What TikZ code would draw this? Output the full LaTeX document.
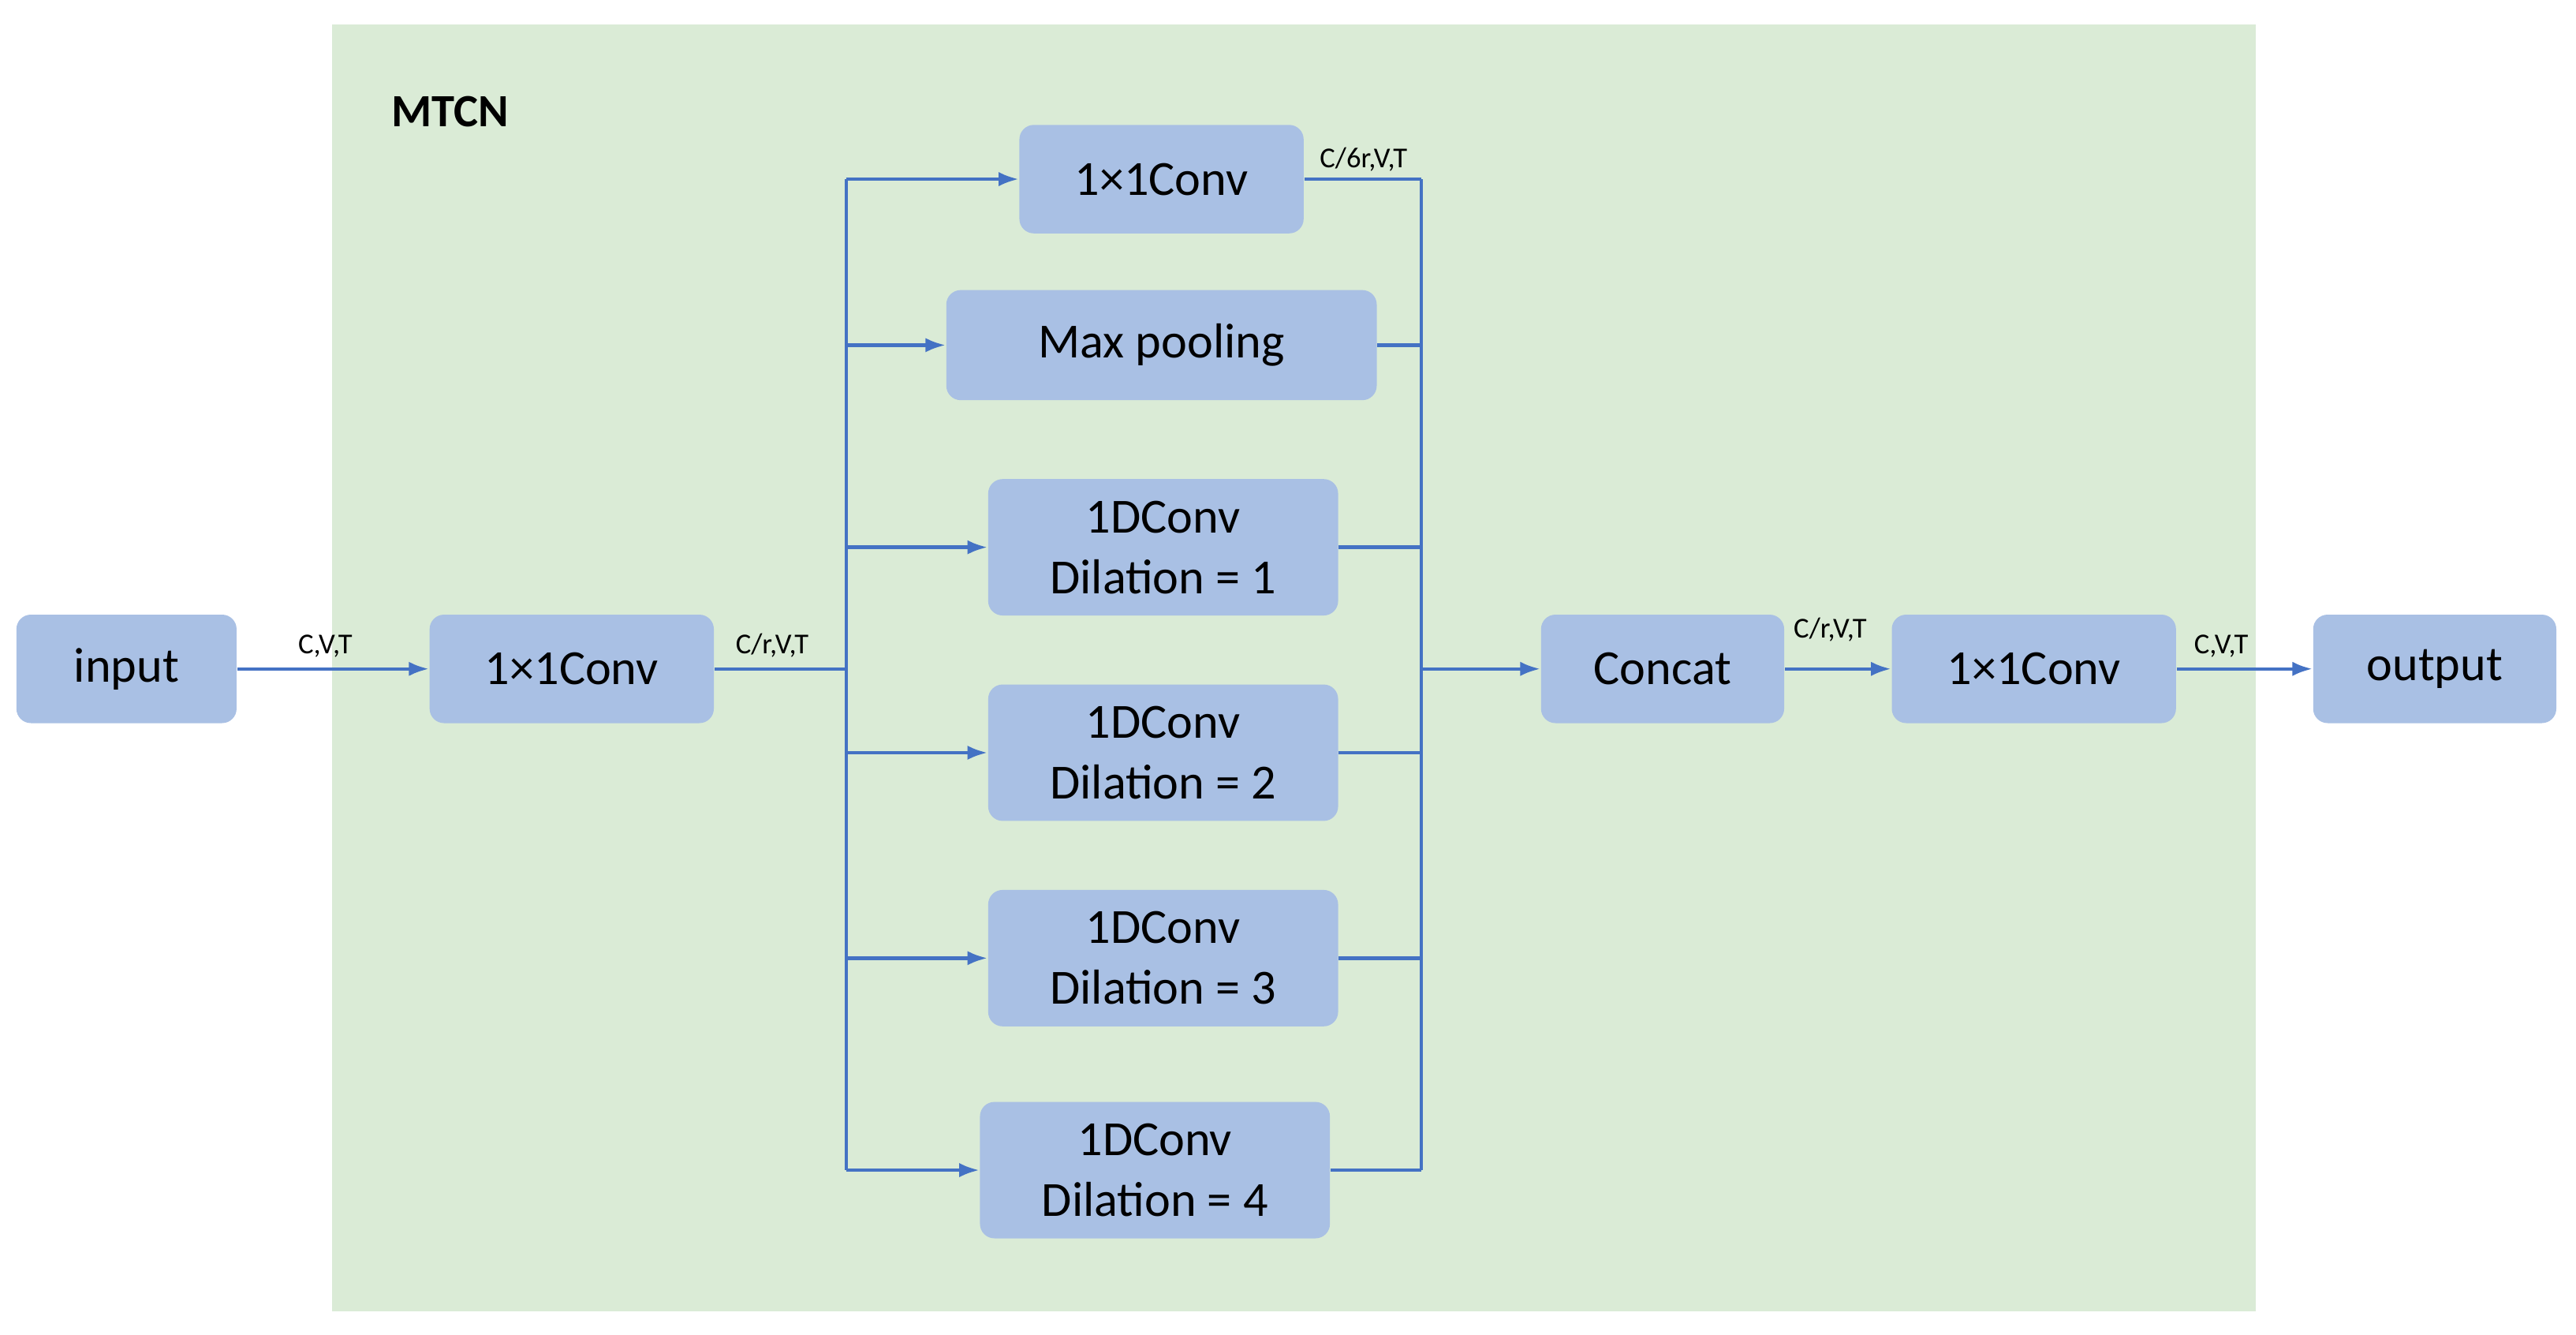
\documentclass[tikz,border=0pt]{standalone}
\usepackage{fontspec}
\setmainfont{Carlito}
\usetikzlibrary{arrows.meta}
\definecolor{bg}{HTML}{DAEBD6}
\definecolor{bx}{HTML}{A9C0E4}
\definecolor{ln}{HTML}{4472C4}
\begin{document}
\begin{tikzpicture}[x=0.02cm,y=-0.02cm,
  box/.style={fill=bx,rounded corners=5pt,align=center,font=\fontsize{17}{21}\selectfont,inner sep=0pt},
  lab/.style={font=\fontsize{10}{12}\selectfont},
  arr/.style={draw=ln,line width=1.2pt,-{Latex[length=7pt,width=5pt]}},
  ln/.style={draw=ln,line width=1.2pt}]
\useasboundingbox (0,0) rectangle (1568,812);
\fill[bg] (202,15) rectangle (1373,798);
\node[anchor=west,font=\fontsize{16}{19}\selectfont\bfseries] (t) at (232,68) {MTCN};
\node[box,minimum width=134*0.02cm,minimum height=66*0.02cm] (in) at (77,407) {input};
\node[box,minimum width=173*0.02cm,minimum height=66*0.02cm] (c1) at (348,407) {1×1Conv};
\node[box,minimum width=173*0.02cm,minimum height=66*0.02cm] (ct) at (707,109) {1×1Conv};
\node[box,minimum width=262*0.02cm,minimum height=67*0.02cm] (mp) at (707,210) {Max pooling};
\node[box,minimum width=213*0.02cm,minimum height=83*0.02cm] (d1) at (708,333) {1DConv\\Dilation = 1};
\node[box,minimum width=213*0.02cm,minimum height=83*0.02cm] (d2) at (708,458) {1DConv\\Dilation = 2};
\node[box,minimum width=213*0.02cm,minimum height=83*0.02cm] (d3) at (708,583) {1DConv\\Dilation = 3};
\node[box,minimum width=213*0.02cm,minimum height=83*0.02cm] (d4) at (703,712) {1DConv\\Dilation = 4};
\node[box,minimum width=148*0.02cm,minimum height=66*0.02cm] (cc) at (1012,407) {Concat};
\node[box,minimum width=173*0.02cm,minimum height=66*0.02cm] (c3) at (1238,407) {1×1Conv};
\node[box,minimum width=148*0.02cm,minimum height=66*0.02cm] (out) at (1482,407) {output};
\coordinate (s) at (515,407);
\coordinate (m) at (865,407);
\draw[arr] (in) -- (c1);
\draw[ln] (c1) -- (s);
\foreach \n in {ct,mp,d1,d2,d3,d4}{
  \draw[arr] (s |- \n) -- (\n);
  \draw[ln] (\n) -- (m |- \n);
}
\draw[ln] (s |- ct) -- (s |- d4);
\draw[ln] (m |- ct) -- (m |- d4);
\draw[arr] (m) -- (cc);
\draw[arr] (cc) -- (c3);
\draw[arr] (c3) -- (out);
\node[lab] (l1) at (198,393) {C,V,T};
\node[lab] (l2) at (470,393) {C/r,V,T};
\node[lab] (l3) at (830,97) {C/6r,V,T};
\node[lab] (l4) at (1114,383) {C/r,V,T};
\node[lab] (l5) at (1352,393) {C,V,T};
\end{tikzpicture}
\end{document}
